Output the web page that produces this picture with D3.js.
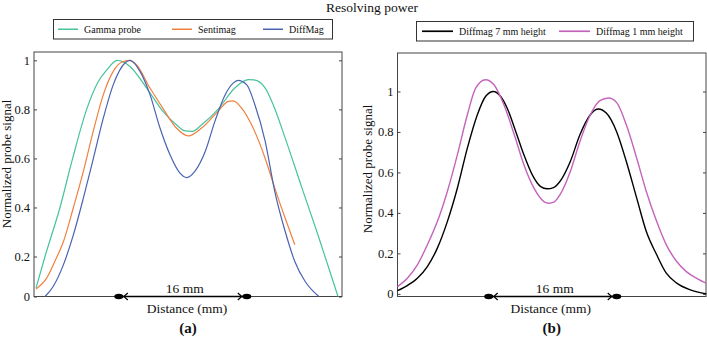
<!DOCTYPE html>
<html>
  <body style="margin:0;background:#fff">
    <style>
      svg { display: block; }
      text { font-family: "Liberation Serif", "Times New Roman", serif; fill: #111; }
      .axis path, .axis line { stroke: #444; }
      .axis text { font-size: 12.5px; font-family: "Liberation Serif", serif; fill: #111; }
    </style>
    <script src="https://cdn.jsdelivr.net/npm/d3@7"></script>
    <script type="text/javascript">

      const width = 707;
      const height = 337;

      // panel (a): [distance mm, normalized signal]
      const gamma = [[0.25,0.071],[1.375,0.2],[3.25,0.4],[4.83,0.6],[6.58,0.8],[8.04,0.914],[9.08,0.96],[10.4,1.0],
        [12.0,0.975],[14.08,0.887],[16.17,0.79],[17.8,0.737],[18.9,0.712],[19.8,0.71],[20.95,0.737],[23.0,0.80],
        [25.1,0.887],[26.8,0.921],[27.5,0.92],[28.9,0.887],[29.9,0.819],[31.4,0.683],[33.5,0.479],[35.5,0.288],[38.0,0.037]];
      const sentimag = [[0.25,0.068],[1.58,0.112],[2.6,0.18],[3.67,0.26],[4.9,0.397],[6.17,0.547],[7.4,0.71],[8.67,0.86],
        [9.9,0.955],[11.0,0.993],[11.9,1.0],[12.8,0.982],[14.5,0.887],[16.2,0.80],[17.8,0.724],[19.3,0.692],[20.95,0.724],
        [23.0,0.792],[24.3,0.833],[24.9,0.835],[25.96,0.805],[27.2,0.737],[28.9,0.60],[30.1,0.479],[31.4,0.356],[32.6,0.248]];
      const diffMag = [[1.375,0.037],[2.4,0.078],[3.67,0.166],[4.92,0.288],[6.17,0.438],[7.42,0.60],[8.67,0.765],[9.9,0.90],
        [11.4,0.99],[12.0,1.0],[13.25,0.955],[14.5,0.86],[15.75,0.724],[17.0,0.615],[18.25,0.54],[19.1,0.522],[20.1,0.547],
        [21.4,0.628],[22.6,0.75],[23.9,0.86],[24.9,0.907],[25.5,0.918],[26.6,0.90],[27.6,0.82],[28.9,0.67],[30.1,0.465],
        [31.4,0.302],[32.6,0.18],[33.9,0.098],[35.6,0.037]];

      // panel (b)
      const diffmag7 = [[0,0.016],[1.23,0.041],[2.48,0.077],[3.73,0.135],[4.98,0.226],[6.23,0.357],[7.48,0.522],[8.73,0.72],
        [9.98,0.885],[11.0,0.975],[11.98,1.0],[12.9,0.975],[13.7,0.918],[14.8,0.80],[15.8,0.687],[16.85,0.588],[17.9,0.53],
        [18.7,0.519],[19.5,0.525],[20.3,0.555],[21.6,0.654],[22.8,0.786],[24.1,0.885],[25.1,0.913],[26.1,0.893],[27.4,0.80],
        [28.6,0.654],[29.9,0.473],[31.1,0.308],[32.4,0.193],[33.6,0.102],[34.9,0.053],[36.6,0.02],[38.6,0.0]];
      const diffmag1 = [[0,0.036],[1.23,0.077],[2.48,0.143],[3.73,0.242],[4.98,0.357],[6.23,0.506],[7.48,0.687],[8.73,0.885],
        [9.77,1.016],[11.0,1.058],[12.06,1.033],[13.3,0.934],[14.6,0.786],[15.8,0.638],[17.06,0.522],[18.3,0.456],[18.9,0.448],
        [19.6,0.455],[20.3,0.489],[21.6,0.605],[22.8,0.753],[24.1,0.885],[25.3,0.955],[26.4,0.968],[27.4,0.945],[28.6,0.835],
        [29.9,0.67],[31.1,0.506],[32.4,0.357],[33.6,0.242],[34.9,0.16],[36.1,0.11],[37.4,0.077],[38.6,0.053]];

      const legendA = ['Gamma probe', 'Sentimag', 'DiffMag'];
      const legendB = ['Diffmag 7 mm height', 'Diffmag 1 mm height'];
      const colorsA = ['#45c39d', '#f08040', '#4a63b0'];
      const colorsB = ['#000000', '#c464bc'];

      const yTicksA = [0.037, 0.2, 0.4, 0.6, 0.8, 1];   // bottom of axis labelled "0" in the original
      const yTicksB = [0, 0.2, 0.4, 0.6, 0.8, 1];
      const yTickLabels = ['0', '0.2', '0.4', '0.6', '0.8', '1'];

      const spacingA = [10.6, 26.6];   // 16 mm marker positions
      const spacingB = [11.4, 27.4];

      const svg = d3.select('body')
        .append('svg')
        .attr('width', width)
        .attr('height', height);

      svg.append('text')
        .attr('x', 372)
        .attr('y', 12)
        .attr('text-anchor', 'middle')
        .style('font-size', '13.5px')
        .text('Resolving power');

      function drawPanel(p) {
        const x = d3.scaleLinear().domain(p.xDomain).range([p.left, p.right]);
        const y = d3.scaleLinear().domain(p.yDomain).range([p.bottom, p.top]);
        const g = svg.append('g');

        // frame
        g.append('rect')
          .attr('x', p.left).attr('y', p.top)
          .attr('width', p.right - p.left).attr('height', p.bottom - p.top)
          .attr('fill', 'none').attr('stroke', '#444').attr('stroke-width', 1);

        const fmt = (d, i) => yTickLabels[i];
        g.append('g')
          .attr('class', 'axis')
          .attr('transform', `translate(${p.left},0)`)
          .call(d3.axisLeft(y).tickValues(p.yTicks).tickFormat(fmt).tickSizeInner(-3).tickSizeOuter(0).tickPadding(4));
        g.append('g')
          .attr('class', 'axis')
          .attr('transform', `translate(${p.right},0)`)
          .call(d3.axisRight(y).tickValues(p.yTicks).tickFormat('').tickSizeInner(-3).tickSizeOuter(0));
        g.selectAll('.axis .domain').remove();

        const line = d3.line()
          .x((d) => x(d[0]))
          .y((d) => y(d[1]))
          .curve(d3.curveMonotoneX);

        g.selectAll('path.series')
          .data(p.series)
          .enter()
          .append('path')
          .attr('class', 'series')
          .attr('d', (d) => line(d))
          .attr('fill', 'none')
          .attr('stroke', (d, i) => p.colors[i])
          .attr('stroke-width', p.lineWidth);

        // 16 mm spacing marker
        const my = p.bottom;
        const x0 = x(p.spacing[0]);
        const x1 = x(p.spacing[1]);
        g.append('line')
          .attr('x1', x0 + 4).attr('x2', x1 - 4)
          .attr('y1', my).attr('y2', my)
          .attr('stroke', '#000').attr('stroke-width', 1.5);
        [[x0 + 9, 1], [x1 - 9, -1]].forEach(([hx, dir]) => {
          g.append('path')
            .attr('d', `M${hx},${my - 3.5}L${hx - 4 * dir},${my}L${hx},${my + 3.5}`)
            .attr('fill', 'none').attr('stroke', '#000').attr('stroke-width', 1.2);
        });
        g.selectAll('ellipse')
          .data(p.spacing)
          .enter()
          .append('ellipse')
          .attr('cx', (d) => x(d)).attr('cy', my)
          .attr('rx', 4.5).attr('ry', 2.8)
          .attr('fill', '#000');
        g.append('text')
          .attr('x', (x0 + x1) / 2 + 2)
          .attr('y', my - 4)
          .attr('text-anchor', 'middle')
          .style('font-size', '13.5px')
          .text('16 mm');

        g.append('text')
          .attr('x', (p.left + p.right) / 2 - 1)
          .attr('y', 313)
          .attr('text-anchor', 'middle')
          .style('font-size', '13.5px')
          .text('Distance (mm)');
        g.append('text')
          .attr('x', (p.left + p.right) / 2)
          .attr('y', 333)
          .attr('text-anchor', 'middle')
          .style('font-size', '15px')
          .style('font-weight', 'bold')
          .text(p.tag);
        g.append('text')
          .attr('transform', `translate(${p.labelX},${p.labelY}) rotate(-90)`)
          .attr('text-anchor', 'middle')
          .style('font-size', '13px')
          .text('Normalized probe signal');

        // legend
        const lg = p.legend;
        g.append('rect')
          .attr('x', lg.x).attr('y', lg.y)
          .attr('width', lg.w).attr('height', lg.h)
          .attr('fill', '#fff').attr('stroke', '#333').attr('stroke-width', 1);
        const items = g.selectAll('.legend')
          .data(p.names)
          .enter()
          .append('g')
          .attr('class', 'legend')
          .attr('transform', (d, i) => `translate(${lg.offsets[i]},${lg.y + lg.h / 2})`);
        items.append('line')
          .attr('x1', 0).attr('x2', lg.lineLen)
          .attr('stroke', (d, i) => p.colors[i])
          .attr('stroke-width', p.lineWidth + 0.3);
        items.append('text')
          .attr('x', lg.lineLen + 6)
          .attr('y', 3.5)
          .style('font-size', '10px')
          .text((d) => d);
      }

      drawPanel({
        left: 34, right: 342, top: 52, bottom: 296.5,
        xDomain: [0, 38.5], yDomain: [0.037, 1.034], yTicks: yTicksA,
        series: [gamma, sentimag, diffMag], colors: colorsA, names: legendA,
        lineWidth: 1.2, spacing: spacingA, tag: '(a)', labelX: 11, labelY: 164,
        legend: { x: 53.5, y: 19.5, w: 279, h: 19.5, lineLen: 20, offsets: [58, 172, 263] }
      });

      drawPanel({
        left: 397.5, right: 706, top: 53, bottom: 296.5,
        xDomain: [0, 38.56], yDomain: [-0.013, 1.19], yTicks: yTicksB,
        series: [diffmag7, diffmag1], colors: colorsB, names: legendB,
        lineWidth: 1.4, spacing: spacingB, tag: '(b)', labelX: 372, labelY: 169,
        legend: { x: 416.5, y: 21.5, w: 277, h: 19.5, lineLen: 31, offsets: [422, 559] }
      });

    </script>
  </body>
</html>
